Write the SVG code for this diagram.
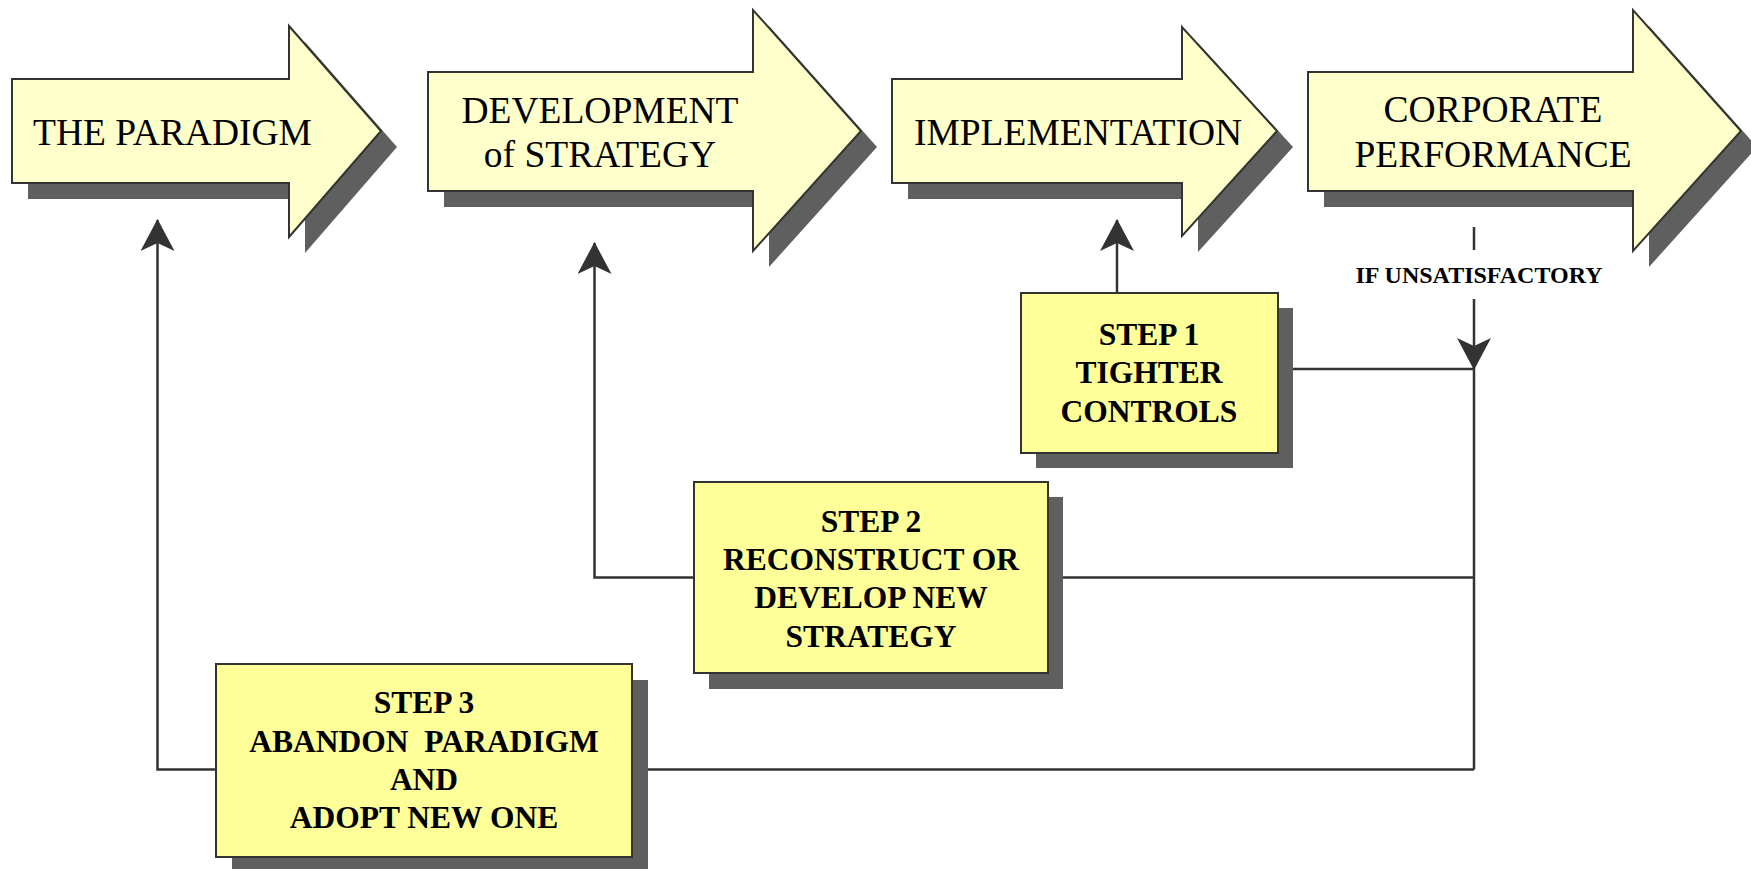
<svg xmlns="http://www.w3.org/2000/svg" width="1751" height="869" viewBox="0 0 1751 869">
<style>
.bg{fill:#ffffff}
.shadow{fill:#5f5f5f;stroke:none}
.arrow{fill:#ffffcc;stroke:#333333;stroke-width:2}
.box{fill:#ffff99;stroke:#333333;stroke-width:2}
.big{font-family:"Liberation Serif","Times New Roman",serif;font-size:37.5px;fill:#000;text-anchor:middle}
.step{font-family:"Liberation Serif","Times New Roman",serif;font-size:31.5px;font-weight:bold;fill:#000;text-anchor:middle;white-space:pre}
.lbl{font-family:"Liberation Serif","Times New Roman",serif;font-size:24px;font-weight:bold;fill:#000;text-anchor:middle}
.conn{fill:none;stroke:#333333;stroke-width:2.5}
</style>
<defs>
<marker id="ah" markerUnits="userSpaceOnUse" viewBox="0 0 32 34" markerWidth="32" markerHeight="34" refX="31" refY="17" orient="auto">
<path d="M32,17 L0,0 L8,17 L0,34 Z" fill="#333333"/>
</marker>
</defs>
<rect class="bg" x="0" y="0" width="1751" height="869"/>

<g id="connectors">
<line class="conn" x1="1474" y1="227" x2="1474" y2="250"/>
<line class="conn" x1="1474" y1="299" x2="1474" y2="369" marker-end="url(#ah)"/>
<line class="conn" x1="1474" y1="369" x2="1474" y2="769.5"/>
<line class="conn" x1="1278" y1="369" x2="1474" y2="369"/>
<line class="conn" x1="1117" y1="293" x2="1117" y2="220" marker-end="url(#ah)"/>
<line class="conn" x1="1048" y1="577.5" x2="1474" y2="577.5"/>
<polyline class="conn" points="694,577.5 594.5,577.5 594.5,243" marker-end="url(#ah)"/>
<line class="conn" x1="632" y1="769.5" x2="1474" y2="769.5"/>
<polyline class="conn" points="216,769.5 157.5,769.5 157.5,220" marker-end="url(#ah)"/>
</g>

<g id="paradigm">
<polygon class="shadow" points="28,95 305,95 305,42 397,147 305,253 305,199 28,199"/>
<polygon class="arrow" points="12,79 289,79 289,26 381,131 289,237 289,183 12,183"/>
<text class="big" x="172.5" y="145">THE PARADIGM</text>
</g>

<g id="development">
<polygon class="shadow" points="444,88 769,88 769,26 877,147 769,267 769,207 444,207"/>
<polygon class="arrow" points="428,72 753,72 753,10 861,131 753,251 753,191 428,191"/>
<text class="big" x="600" y="123">DEVELOPMENT</text>
<text class="big" x="600" y="167">of STRATEGY</text>
</g>

<g id="implementation">
<polygon class="shadow" points="908,95 1198,95 1198,43 1293,147 1198,252 1198,199 908,199"/>
<polygon class="arrow" points="892,79 1182,79 1182,27 1277,131 1182,236 1182,183 892,183"/>
<text class="big" x="1078" y="145">IMPLEMENTATION</text>
</g>

<g id="performance">
<polygon class="shadow" points="1324,88 1649,88 1649,26 1757,147 1649,267 1649,207 1324,207"/>
<polygon class="arrow" points="1308,72 1633,72 1633,10 1741,131 1633,251 1633,191 1308,191"/>
<text class="big" x="1493" y="122">CORPORATE</text>
<text class="big" x="1493" y="167">PERFORMANCE</text>
</g>

<g id="label-unsatisfactory">
<text class="lbl" x="1479" y="283">IF UNSATISFACTORY</text>
</g>

<g id="step1">
<rect class="shadow" x="1036" y="308" width="257" height="160"/>
<rect class="box" x="1021" y="293" width="257" height="160"/>
<text class="step" x="1149" y="345">STEP 1</text>
<text class="step" x="1149" y="383">TIGHTER</text>
<text class="step" x="1149" y="422">CONTROLS</text>
</g>

<g id="step2">
<rect class="shadow" x="709" y="497" width="354" height="192"/>
<rect class="box" x="694" y="482" width="354" height="191"/>
<text class="step" x="871" y="532">STEP 2</text>
<text class="step" x="871" y="570">RECONSTRUCT OR</text>
<text class="step" x="871" y="608">DEVELOP NEW</text>
<text class="step" x="871" y="647">STRATEGY</text>
</g>

<g id="step3">
<rect class="shadow" x="232" y="680" width="416" height="193"/>
<rect class="box" x="216" y="664" width="416" height="193"/>
<text class="step" x="424" y="713">STEP 3</text>
<text class="step" x="424" y="752" xml:space="preserve">ABANDON  PARADIGM</text>
<text class="step" x="424" y="790">AND</text>
<text class="step" x="424" y="828">ADOPT NEW ONE</text>
</g>
</svg>
